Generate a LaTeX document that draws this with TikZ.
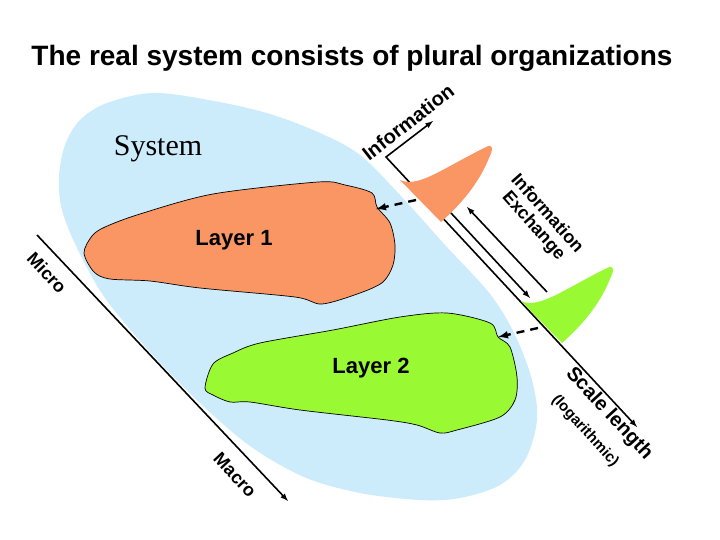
\documentclass[tikz,border=0pt]{standalone}
\usepackage{fontspec}
\setmainfont{Liberation Sans}
\newfontfamily\sysfont{Liberation Serif}
\usetikzlibrary{arrows}
\definecolor{sysblue}{RGB}{204,236,252}
\definecolor{orgorange}{RGB}{250,150,100}
\definecolor{orggreen}{RGB}{153,250,51}
\tikzset{lab/.style={font=\fontsize{20}{20}\selectfont\bfseries,inner sep=0pt}}
\tikzset{sm/.style={font=\fontsize{18}{18}\selectfont\bfseries,inner sep=0pt}}
\tikzset{axisline/.style={line width=1.6pt}}
\tikzset{blob/.style={draw=black,line width=0.7pt}}
\tikzset{dasharrow/.style={line width=2.4pt,dash pattern=on 8pt off 6pt,-latex}}

\begin{document}
\begin{tikzpicture}[x=1pt,y=-1pt]
  \useasboundingbox (0,0) rectangle (720,540);
  \fill[white] (0,0) rectangle (720,540);
  % the system
  \fill[sysblue] plot[smooth cycle,tension=0.55] coordinates {
    (65,145) (80,120) (107,103) (154,93) (214,101) (270,114) (320,133)
    (360,155) (400,195) (445,245) (490,294) (515,335) (532,380) (537,420)
    (525,460) (500,485) (460,498) (420,500) (360,493) (304,477) (250,446)
    (200,403) (150,352) (105,298) (78,250) (62,210) (59,177)};
  % micro -> macro
  \coordinate (mic) at (37,235);
  \coordinate (mac) at (288,501);
  \draw[axisline,-latex] (mic) -- (mac);
  % layers
  \filldraw[blob,fill=orgorange] plot[smooth cycle,tension=0.5] coordinates {
    (84,253) (92,236) (105,227) (140,214) (213,194) (318,182) (345,185)
    (372,193) (377,207) (390,223) (395,245) (393,265) (383,282) (360,293)
    (322,304) (295,297) (200,288) (150,281) (110,279) (94,272)};
  \filldraw[blob,fill=orggreen] plot[smooth cycle,tension=0.5] coordinates {
    (205,388) (213,364) (233,353) (260,343) (333,330) (400,317) (447,313)
    (490,323) (498,337) (510,347) (517,377) (515,400) (500,417) (457,430)
    (440,433) (417,425) (387,420) (300,410) (250,402) (230,402) (213,395)};
  \coordinate (l1in) at (376,209);
  \coordinate (l2in) at (498,337);
  % scale axis and information axis
  \coordinate (infoend) at (433,121);
  \coordinate (corner) at (386,157);
  \coordinate (scaleend) at (637,427);
  \draw[axisline,latex-latex] (infoend) -- (corner) -- (scaleend);
  % distributions
  \fill[orgorange] (400,180) .. controls (418,188) and (440,170) .. (486,147)
    .. controls (494,143) and (493,150) .. (489,158)
    .. controls (478,185) and (460,205) .. (441,222) -- cycle;
  \begin{scope}[shift={(121,121)}]
    \fill[orggreen] (400,180) .. controls (418,188) and (440,170) .. (486,147)
      .. controls (494,143) and (493,150) .. (489,158)
      .. controls (478,185) and (460,205) .. (441,222) -- cycle;
  \end{scope}
  \coordinate (o1) at (416,200);
  \coordinate (o2) at (538,328);
  \draw[dasharrow] (o1) -- (l1in);
  \draw[dasharrow] (o2) -- (l2in);
  % exchange
  \coordinate (dn1) at (451,213);
  \coordinate (dn2) at (530,298);
  \coordinate (up1) at (547,292);
  \coordinate (up2) at (467,207);
  \draw[axisline,-latex] (dn1) -- (dn2);
  \draw[axisline,-latex] (up1) -- (up2);
  % texts
  \node[font=\fontsize{28}{28}\selectfont\bfseries,inner sep=0pt] (title) at (352,58)
    {The real system consists of plural organizations};
  \node[font=\sysfont\fontsize{30}{30}\selectfont,inner sep=0pt] (sys) at (158,149) {System};
  \node[font=\fontsize{22}{22}\selectfont\bfseries,inner sep=0pt] (lay1) at (234,240) {Layer 1};
  \node[font=\fontsize{22}{22}\selectfont\bfseries,inner sep=0pt] (lay2) at (371,368) {Layer 2};
  \node[sm,rotate=-47] (micro) at (47,273) {Micro};
  \node[sm,rotate=-47] (macro) at (235,475) {Macro};
  \node[lab,rotate=38] (info) at (408,122) {Information};
  \node[sm,rotate=-48.5,align=center] (exch) at (540,220) {Information\\Exchange};
  \node[lab,rotate=-47.4] (scale) at (609,414) {Scale length};
  \node[font=\fontsize{15}{15}\selectfont\bfseries,inner sep=0pt,rotate=-47.4] (logar) at (585,431) {(logarithmic)};
\end{tikzpicture}
\end{document}
